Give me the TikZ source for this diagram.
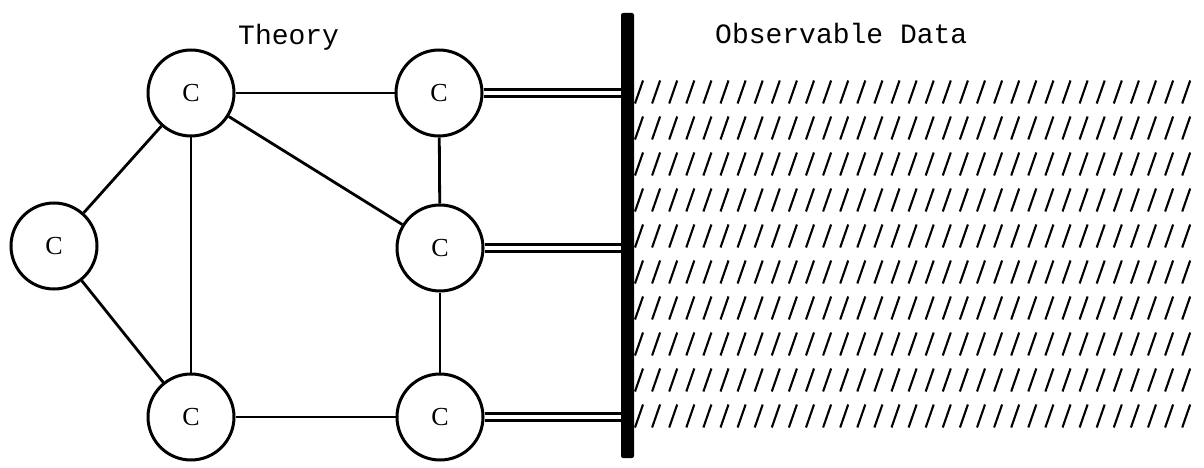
\documentclass[tikz,border=0pt]{standalone}
\usepackage{fontspec}
\newfontfamily\typefont{Liberation Mono}
\newfontfamily\letterfont{Liberation Serif}
\begin{document}
\begin{tikzpicture}[x=1pt,y=-1pt,
  concept/.style={circle,draw,line width=3pt,minimum size=86pt,inner sep=0pt,
    font=\letterfont\fontsize{26}{26}\selectfont},
  link/.style={line width=2.8pt},
  feed/.style={double,line width=3.2pt,double distance=4.2pt},
  heading/.style={anchor=base west,inner sep=0pt,font=\typefont\fontsize{28}{28}\selectfont},
  tick/.style={line width=2.1pt}]
\useasboundingbox (0,0) rectangle (1204,468);

% headings
\node[heading] (theory) at (238,45) {Theory};
\node[heading] (data) at (715,44) {Observable Data};

% the dividing bar
\node[fill=black,inner sep=0pt,minimum width=13pt,minimum height=445pt,rounded corners=2pt]
  (bar) at (627.5,235.5) {};

% concepts
\node[concept] (L)  at (54,246)  {C};
\node[concept] (TL) at (191,93)  {C};
\node[concept] (TR) at (439,93)  {C};
\node[concept] (MR) at (440,248) {C};
\node[concept] (BL) at (191,417) {C};
\node[concept] (BR) at (440,417) {C};

% relations among concepts
\draw[link] (L) -- (TL);
\draw[link] (L) -- (BL);
\draw[link] (TL) -- (BL);
\draw[link] (TL) -- (TR);
\draw[link] (TL) -- (MR);
\draw[link] (TR) -- (MR);
\draw[link] (MR) -- (BR);
\draw[link] (BL) -- (BR);

% ties to the observable side
\draw[feed] (TR) -- (TR -| bar.west);
\draw[feed] (MR) -- (MR -| bar.west);
\draw[feed] (BR) -- (BR -| bar.west);

% hatched data field
\foreach \r in {0,...,9}
  \foreach \i in {0,...,32}
    \draw[tick] ({635+17.1*\i},{92+36*\r+11.5}) -- ++(8,-23);
\end{tikzpicture}
\end{document}
